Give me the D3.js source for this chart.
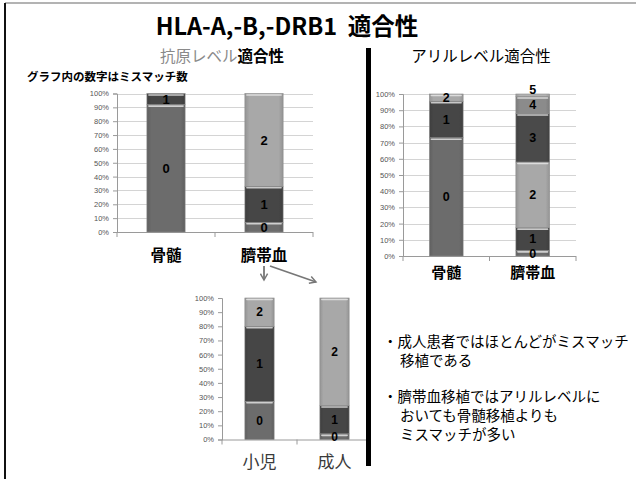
<!DOCTYPE html>
<html>
<head>
<meta charset="utf-8">
<script src="https://cdn.jsdelivr.net/npm/d3@7"></script>
<style>
  html, body { margin: 0; padding: 0; background: #fff; }
  svg { display: block; }
  text { font-family: "Noto Sans CJK JP", "Noto Sans", sans-serif; }
  .tick text { font-family: "Liberation Sans", Arial, sans-serif; }
</style>
</head>
<body>
<svg id="slide" width="636" height="479"></svg>
<script>
// mismatch count of each segment, bottom to top
var mismatchLabels = ["0", "1", "2", "3", "4", "5"];
var segColors = ["#6c6c6c", "#464646", "#a8a8a8", "#4a4a4a", "#8b8b8b", "#b2b2b2"];

var yTicks = [0, 0.1, 0.2, 0.3, 0.4, 0.5, 0.6, 0.7, 0.8, 0.9, 1];

// antigen level (percent of patients)
var antigenCats = ["骨髄", "臍帯血"];
var antigenBM = [92, 8];
var antigenCB = [7, 26, 67];

// allele level
var alleleCats = ["骨髄", "臍帯血"];
var alleleBM = [73, 22.5, 4.5];
var alleleCB = [3.5, 14, 40.5, 30, 10.5, 1.5];

// cord blood split by age
var ageCats = ["小児", "成人"];
var cbChild = [27, 53, 20];
var cbAdult = [4, 20, 76];

var notes = [
    ["・成人患者ではほとんどがミスマッチ", "移植である"],
    ["・臍帯血移植ではアリルレベルに", "おいても骨髄移植よりも", "ミスマッチが多い"]
];

var svg = d3.select("svg#slide");
var defs = svg.append("defs");

// slightly rounded look like the excel bevel bars
segColors.forEach(function(c, i) {
    var g = defs.append("linearGradient")
        .attr("id", "seg" + i)
        .attr("x1", "0%").attr("x2", "100%").attr("y1", "0%").attr("y2", "0%");
    var base = d3.color(c);
    g.append("stop").attr("offset", "0%").attr("stop-color", base.darker(0.35));
    g.append("stop").attr("offset", "12%").attr("stop-color", base);
    g.append("stop").attr("offset", "88%").attr("stop-color", base);
    g.append("stop").attr("offset", "100%").attr("stop-color", base.darker(0.35));
});

// frame
svg.append("line").attr("x1", 5).attr("x2", 636).attr("y1", 3).attr("y2", 3)
    .attr("stroke", "#9a9a9a").attr("stroke-width", 1.5);
svg.append("line").attr("x1", 5).attr("x2", 5).attr("y1", 3).attr("y2", 479)
    .attr("stroke", "#111").attr("stroke-width", 2);

// divider
svg.append("rect").attr("x", 366).attr("y", 48).attr("width", 5).attr("height", 418)
    .attr("fill", "#000");

svg.append("text")
    .attr("x", 287).attr("y", 35)
    .attr("text-anchor", "middle")
    .style("font-size", "23.5px").style("font-weight", "bold")
    .text("HLA-A,-B,-DRB1\u00a0\u00a0適合性");

var sub1 = svg.append("text")
    .attr("x", 222).attr("y", 62)
    .attr("text-anchor", "middle")
    .style("font-size", "15.5px");
sub1.append("tspan").attr("fill", "#8a8a8a").text("抗原レベル");
sub1.append("tspan").attr("fill", "#000").style("font-weight", "bold").text("適合性");

svg.append("text")
    .attr("x", 481).attr("y", 62)
    .attr("text-anchor", "middle")
    .style("font-size", "15.5px")
    .text("アリルレベル適合性");

svg.append("text")
    .attr("x", 27).attr("y", 81)
    .style("font-size", "11.5px").style("font-weight", "bold")
    .text("グラフ内の数字はミスマッチ数");

function drawStack(opt) {
    var x = d3.scaleBand()
        .domain(opt.cats)
        .range([opt.left, opt.right])
        .paddingInner(0.61)
        .paddingOuter(0.305);

    var y = d3.scaleLinear()
        .domain([0, 1])
        .range([opt.bottom, opt.top]);

    var g = svg.append("g");

    if (opt.grid) {
        g.append("g")
            .selectAll("line")
            .data(yTicks.slice(1))
            .enter().append("line")
            .attr("x1", opt.left).attr("x2", opt.gridRight || opt.right)
            .attr("y1", function(d) { return Math.round(y(d)) + 0.5; })
            .attr("y2", function(d) { return Math.round(y(d)) + 0.5; })
            .attr("stroke", "#d4d4d4");
    }

    var yAxis = g.append("g")
        .attr("transform", "translate(" + opt.left + ",0)")
        .call(d3.axisLeft(y)
            .tickValues(yTicks)
            .tickSize(4)
            .tickPadding(4)
            .tickFormat(function(d) { return Math.round(d * 100) + "%"; }));
    yAxis.select(".domain").attr("stroke", "#9a9a9a");
    yAxis.selectAll(".tick line").attr("stroke", "#9a9a9a");
    yAxis.selectAll(".tick text")
        .attr("fill", "#555")
        .style("font-size", "7.5px");

    // category axis with ticks between the bars
    var step = x.step();
    var bounds = d3.range(opt.cats.length + 1).map(function(i) { return opt.left + i * step; });
    g.append("line")
        .attr("x1", opt.left).attr("x2", opt.axisRight || opt.right)
        .attr("y1", opt.bottom + 0.5).attr("y2", opt.bottom + 0.5)
        .attr("stroke", "#9a9a9a");
    g.append("g").selectAll("line")
        .data(bounds.filter(function(b) { return b <= (opt.axisRight || opt.right) + 1; }))
        .enter().append("line")
        .attr("x1", function(d) { return d; }).attr("x2", function(d) { return d; })
        .attr("y1", opt.bottom).attr("y2", opt.bottom + 5)
        .attr("stroke", "#9a9a9a");

    opt.series.forEach(function(vals, ci) {
        var total = d3.sum(vals);
        var ends = d3.cumsum(vals);
        var segs = vals.map(function(v, i) {
            return { i: i, y0: (ends[i] - v) / total, y1: ends[i] / total };
        });
        var bar = g.append("g");
        var bx = x(opt.cats[ci]);
        var bw = x.bandwidth();

        bar.selectAll("rect")
            .data(segs)
            .enter().append("rect")
            .attr("x", bx)
            .attr("width", bw)
            .attr("y", function(d) { return y(d.y1); })
            .attr("height", function(d) { return y(d.y0) - y(d.y1); })
            .attr("fill", function(d) { return "url(#seg" + d.i + ")"; })
            .attr("stroke", "#8a8a8a")
            .attr("stroke-width", 0.6);

        // bevel highlight on top of each segment
        bar.selectAll("line.hl")
            .data(segs.filter(function(d) { return y(d.y0) - y(d.y1) > 3; }))
            .enter().append("line")
            .attr("class", "hl")
            .attr("x1", bx + 2).attr("x2", bx + bw - 2)
            .attr("y1", function(d) { return y(d.y1) + 1.5; })
            .attr("y2", function(d) { return y(d.y1) + 1.5; })
            .attr("stroke", "#e8e8e8")
            .attr("stroke-opacity", 0.8)
            .attr("stroke-width", 1.6)
            .attr("stroke-linecap", "round");

        bar.selectAll("text")
            .data(segs)
            .enter().append("text")
            .attr("x", bx + bw / 2)
            .attr("y", function(d) {
                var mid = y((d.y0 + d.y1) / 2);
                if (d.y1 - d.y0 < 0.025) mid = y(d.y1) - 5;
                return mid;
            })
            .attr("dy", "0.36em")
            .attr("text-anchor", "middle")
            .style("font-family", "'Liberation Sans', Arial, sans-serif")
            .style("font-size", opt.labelSize + "px")
            .style("font-weight", opt.labelWeight)
            .attr("fill", "#000")
            .text(function(d) { return mismatchLabels[d.i]; });

        svg.append("text")
            .attr("x", bx + bw / 2)
            .attr("y", opt.catY)
            .attr("text-anchor", "middle")
            .style("font-size", opt.catSize + "px")
            .style("font-weight", opt.catWeight)
            .attr("fill", opt.catColor)
            .text(opt.cats[ci]);
    });
}

drawStack({
    cats: antigenCats, series: [antigenBM, antigenCB],
    left: 117, right: 313, top: 93.5, bottom: 232,
    grid: true, labelSize: 13, labelWeight: "bold",
    catY: 261, catSize: 15.5, catWeight: "bold", catColor: "#000"
});

drawStack({
    cats: alleleCats, series: [alleleBM, alleleCB],
    left: 403, right: 576, top: 94, bottom: 256,
    grid: true, labelSize: 12.5, labelWeight: "bold",
    catY: 278, catSize: 15, catWeight: "bold", catColor: "#000"
});

drawStack({
    cats: ageCats, series: [cbChild, cbAdult],
    left: 222, right: 372, axisRight: 366, top: 298, bottom: 439.5,
    grid: false, labelSize: 12, labelWeight: "bold",
    catY: 468, catSize: 17, catWeight: "normal", catColor: "#3a3a3a"
});

// arrows from 臍帯血 to the age split
defs.append("marker")
    .attr("id", "arrow")
    .attr("viewBox", "0 0 10 10")
    .attr("refX", 8).attr("refY", 5)
    .attr("markerWidth", 5).attr("markerHeight", 5)
    .attr("orient", "auto")
    .append("path")
    .attr("d", "M1,1 L8,5 L1,9")
    .attr("fill", "none")
    .attr("stroke", "#777")
    .attr("stroke-width", 1.6);

svg.append("line")
    .attr("x1", 264).attr("y1", 266).attr("x2", 264).attr("y2", 280)
    .attr("stroke", "#777").attr("stroke-width", 1.8)
    .attr("marker-end", "url(#arrow)");
svg.append("line")
    .attr("x1", 270).attr("y1", 266).attr("x2", 316).attr("y2", 282)
    .attr("stroke", "#777").attr("stroke-width", 1.8)
    .attr("marker-end", "url(#arrow)");

// notes
var noteY = [[342, 361], [397, 416, 435]];
notes.forEach(function(lines, k) {
    lines.forEach(function(t, j) {
        svg.append("text")
            .attr("x", j === 0 ? 383 : 400)
            .attr("y", noteY[k][j])
            .attr("dy", "0.35em")
            .style("font-size", "14.5px")
            .attr("fill", "#000")
            .text(t);
    });
});
</script>
</body>
</html>
